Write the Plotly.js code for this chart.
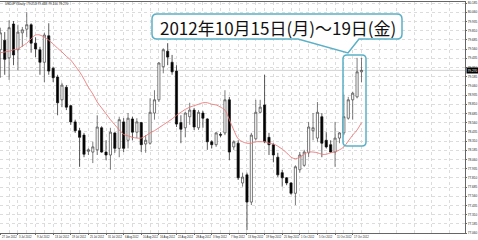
<!DOCTYPE html>
<html><head><meta charset="utf-8">
<script src="https://cdn.plot.ly/plotly-3.0.1.min.js"></script>
<style>html,body{margin:0;padding:0;background:#fff;overflow:hidden}#chart{width:478px;height:240px}</style>
</head><body><div id="chart"></div>
<script>
// USDJPY Daily, 27 Jun 2012 - 19 Oct 2012
const days = ['2012-06-27','2012-06-28','2012-06-29','2012-07-02','2012-07-03','2012-07-04','2012-07-05','2012-07-06','2012-07-09','2012-07-10',
'2012-07-11','2012-07-12','2012-07-13','2012-07-16','2012-07-17','2012-07-18','2012-07-19','2012-07-20','2012-07-23','2012-07-24',
'2012-07-25','2012-07-26','2012-07-27','2012-07-30','2012-07-31','2012-08-01','2012-08-02','2012-08-03','2012-08-06','2012-08-07',
'2012-08-08','2012-08-09','2012-08-10','2012-08-13','2012-08-14','2012-08-15','2012-08-16','2012-08-17','2012-08-20','2012-08-21',
'2012-08-22','2012-08-23','2012-08-24','2012-08-27','2012-08-28','2012-08-29','2012-08-30','2012-08-31','2012-09-03','2012-09-04',
'2012-09-05','2012-09-06','2012-09-07','2012-09-10','2012-09-11','2012-09-12','2012-09-13','2012-09-14','2012-09-17','2012-09-18',
'2012-09-19','2012-09-20','2012-09-21','2012-09-24','2012-09-25','2012-09-26','2012-09-27','2012-09-28','2012-10-01','2012-10-02',
'2012-10-03','2012-10-04','2012-10-05','2012-10-08','2012-10-09','2012-10-10','2012-10-11','2012-10-12','2012-10-15','2012-10-16',
'2012-10-17','2012-10-18','2012-10-19'];

const openP = [79.55,79.68,79.44,79.90,79.55,79.78,79.83,79.89,79.64,79.55,
79.38,79.74,79.30,79.18,78.87,79.04,78.79,78.57,78.45,78.39,
78.17,78.16,78.19,78.49,78.16,78.12,78.42,78.21,78.57,78.32,
78.61,78.43,78.56,78.27,78.28,78.69,78.87,79.32,79.53,79.38,
79.26,78.56,78.49,78.64,78.73,78.49,78.69,78.61,78.30,78.26,
78.40,78.42,78.87,78.23,78.28,77.74,77.85,77.48,78.34,78.70,
78.80,78.36,78.26,78.09,77.88,77.81,77.74,77.60,77.92,77.98,
78.15,78.45,78.35,78.64,78.32,78.26,78.16,78.35,78.42,78.62,
78.87,78.91,79.25];

const highP = [79.85,79.79,79.95,79.94,79.89,79.86,80.06,79.91,79.72,79.59,
79.78,79.91,79.32,79.21,79.10,79.07,78.80,78.60,78.49,78.42,
78.21,78.30,78.66,78.51,78.32,78.49,78.43,78.64,78.62,78.69,
78.64,78.62,78.57,78.39,78.89,79.00,79.38,79.57,79.64,79.48,
79.34,78.66,78.70,78.83,78.76,78.73,78.72,78.62,78.32,78.43,
78.43,79.00,78.91,78.32,78.32,77.88,77.88,78.42,78.87,78.87,
79.21,78.42,78.28,78.15,77.92,77.82,77.75,77.98,78.16,78.19,
78.57,78.69,78.84,78.69,78.43,78.32,78.57,78.43,78.94,78.91,
78.98,79.44,79.44];

const lowP = [79.17,79.21,79.14,79.34,79.27,79.59,79.72,79.51,79.45,79.21,
79.11,79.21,79.11,78.66,78.77,78.73,78.53,78.42,77.96,78.09,
78.12,78.01,78.12,78.15,78.05,77.92,78.15,78.09,78.16,78.21,
78.32,78.35,78.16,78.15,78.26,78.60,78.84,79.23,79.34,79.21,
78.50,78.28,78.36,78.53,78.46,78.46,78.49,78.19,78.21,78.23,
78.36,78.39,78.05,78.19,77.78,77.69,77.10,77.44,78.32,78.69,
78.28,78.12,78.02,77.82,77.69,77.71,77.58,77.44,77.88,77.96,
78.09,78.32,78.30,78.09,78.21,78.15,77.96,78.28,78.39,78.60,
78.60,78.89,79.11];

const closeP = [79.78,79.42,79.85,79.48,79.79,79.82,79.89,79.64,79.56,79.38,
79.75,79.26,79.17,78.83,79.07,78.77,78.57,78.45,78.36,78.13,
78.19,78.23,78.50,78.16,78.12,78.43,78.21,78.60,78.21,78.62,
78.43,78.57,78.26,78.32,78.70,78.87,79.37,79.55,79.45,79.25,
78.54,78.47,78.69,78.73,78.50,78.70,78.62,78.30,78.26,78.42,
78.39,78.87,78.16,78.30,77.81,77.82,77.48,78.39,78.70,78.77,
78.30,78.26,78.12,77.85,77.81,77.74,77.60,77.96,78.12,78.16,
78.50,78.49,78.70,78.28,78.23,78.16,78.35,78.42,78.64,78.87,
78.96,79.25,79.27];

const maLine = [79.51,79.52,79.53,79.55,79.56,79.60,79.64,79.70,79.75,79.75,
79.72,79.68,79.63,79.57,79.52,79.46,79.41,79.33,79.25,79.15,
79.04,78.95,78.84,78.76,78.68,78.60,78.53,78.46,78.40,78.38,
78.36,78.35,78.35,78.38,78.42,78.45,78.49,78.53,78.57,78.61,
78.66,78.70,78.74,78.77,78.79,78.81,78.83,78.83,78.81,78.80,
78.77,78.73,78.60,78.46,78.34,78.30,78.28,78.28,78.30,78.30,
78.30,78.28,78.27,78.24,78.20,78.15,78.09,78.07,78.09,78.13,
78.16,78.16,78.15,78.13,78.13,78.15,78.16,78.19,78.23,78.31,
78.39,78.46,78.56];

const tickBars = [1,5,9,13,17,21,25,29,33,37,41,45,49,53,57,61,65,69,73,77,81];
const tickLabels = ['27 Jun 2012','3 Jul 2012','9 Jul 2012','13 Jul 2012','19 Jul 2012','25 Jul 2012','31 Jul 2012','6 Aug 2012','10 Aug 2012','16 Aug 2012','22 Aug 2012','28 Aug 2012','3 Sep 2012','7 Sep 2012','13 Sep 2012','19 Sep 2012','25 Sep 2012','1 Oct 2012','5 Oct 2012','11 Oct 2012','17 Oct 2012'];

const headerText = 'USDJPY,Daily  79.253 79.438 79.110 79.270';
const calloutText = '2012年10月15日(月)～19日(金)';
const lastPrice = 79.27;

const bars = days.map((d,i)=>i+1);

// layout geometry (pixels)
const W=478,H=240,ML=0,MR=13,MT=2,MB=7;
const PW=W-ML-MR, PH=H-MT-MB;
const px = x => (x-ML)/PW;
const py = y => (H-MB-y)/PH;
function P(x,y){return px(x).toFixed(5)+','+py(y).toFixed(5);}
function roundRect(x0,y0,x1,y1,r,tail){
  let s='M'+P(x0+r,y0)+' L'+P(x1-r,y0)+' Q'+P(x1,y0)+' '+P(x1,y0+r)+
    ' L'+P(x1,y1-r)+' Q'+P(x1,y1)+' '+P(x1-r,y1);
  if(tail){ tail.forEach(t=>{ s+=' L'+P(t[0],t[1]); }); }
  s+=' L'+P(x0+r,y1)+' Q'+P(x0,y1)+' '+P(x0,y1-r)+' L'+P(x0,y0+r)+' Q'+P(x0,y0)+' '+P(x0+r,y0)+' Z';
  return s;
}
const teal='#5ab0c6';
const gridC='#dcdcdc';
const smallFont = 'Liberation Sans Narrow, Liberation Sans, Arial, sans-serif';

const traces = [
  {type:'candlestick', x:bars, open:openP, high:highP, low:lowP, close:closeP,
   text:days, hoverinfo:'x+text',
   whiskerwidth:0,
   increasing:{line:{color:'#444',width:0.7},fillcolor:'#ffffff'},
   decreasing:{line:{color:'#111',width:0.7},fillcolor:'#000000'},
   showlegend:false},
  {type:'scatter', mode:'lines', x:bars, y:maLine, line:{color:'#ea7b7b',width:0.9,shape:'spline'},
   hoverinfo:'skip', showlegend:false}
];

const dateAnnotations = tickBars.map((b,k)=>({
  xref:'x', yref:'paper', x:b, y:py(233), text:tickLabels[k], showarrow:false,
  xanchor:'left', yanchor:'top', borderpad:0, xshift:0.5, yshift:-0.8,
  font:{family:smallFont, size:2.7, color:'#222'}
}));

const layout = {
  width:W, height:H,
  margin:{l:ML,r:MR,t:MT,b:MB,pad:0},
  paper_bgcolor:'#fff', plot_bgcolor:'#fff',
  showlegend:false,
  font:{family:'DejaVu Sans, sans-serif'},
  xaxis:{range:[0.93,106.5], rangeslider:{visible:false},
    tickmode:'array', tickvals:tickBars, ticktext:tickLabels, showticklabels:false,
    ticks:'outside', ticklen:1, tickcolor:'#666',
    showgrid:true, gridcolor:gridC, griddash:'dot', gridwidth:1,
    minor:{tickmode:'linear', tick0:3, dtick:4, showgrid:true, gridcolor:gridC, griddash:'dot', gridwidth:1, ticks:''},
    showline:true, linecolor:'#666', linewidth:1, mirror:true, zeroline:false, fixedrange:true},
  yaxis:{range:[77.06,80.199], side:'right',
    tickmode:'linear', tick0:80.185, dtick:0.125, tickformat:'.3f',
    tickfont:{family:smallFont, size:3.2,color:'#222'}, ticks:'outside', ticklen:1, tickcolor:'#666',
    showgrid:true, gridcolor:gridC, griddash:'dot', gridwidth:1,
    showline:true, linecolor:'#666', linewidth:1, zeroline:false, fixedrange:true},
  shapes:[
    {type:'line', xref:'paper', yref:'y', x0:0, x1:1, y0:lastPrice, y1:lastPrice, line:{color:'#b4b4b4',width:0.6}, layer:'below'},
    {type:'path', xref:'paper', yref:'paper', path:roundRect(343,55,366,146,4,null), line:{color:teal,width:1.5}, fillcolor:'rgba(0,0,0,0)', layer:'above'},
    {type:'path', xref:'paper', yref:'paper', path:roundRect(152,14,402,39,5,[[359,39],[348,53],[298,39]]), line:{color:teal,width:1.5}, fillcolor:'#ffffff', layer:'above'}
  ],
  annotations:[
    {xref:'paper', yref:'paper', x:px(277.5), y:py(27), text:calloutText, showarrow:false,
     xanchor:'center', yanchor:'middle', font:{family:'Noto Sans CJK JP, sans-serif', size:17, color:'#111'}},
    {xref:'paper', yref:'paper', x:px(3), y:py(4), text:headerText, showarrow:false,
     xanchor:'left', yanchor:'middle', font:{family:smallFont, size:3.2,color:'#222'}},
    {xref:'paper', yref:'y', x:1, y:lastPrice, xshift:1, text:lastPrice.toFixed(3), showarrow:false,
     xanchor:'left', yanchor:'middle', bgcolor:'#000', borderpad:0.5, font:{family:smallFont, size:3.2,color:'#fff'}}
  ].concat(dateAnnotations)
};

Plotly.newPlot('chart', traces, layout, {displayModeBar:false, staticPlot:true});
</script></body></html>
